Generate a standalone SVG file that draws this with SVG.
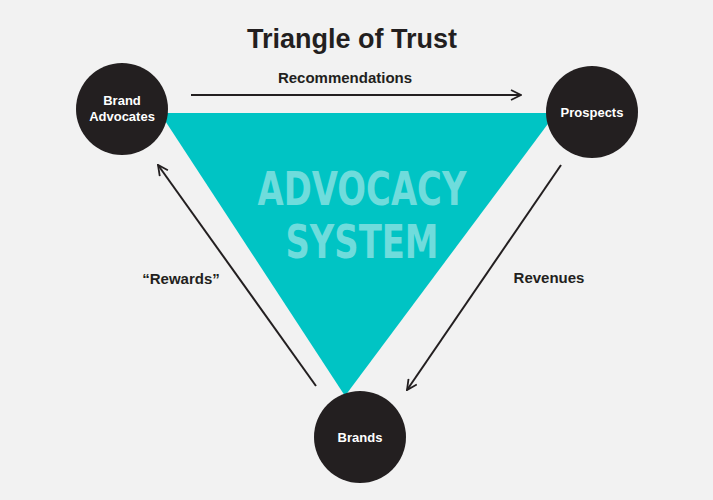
<svg xmlns="http://www.w3.org/2000/svg" width="713" height="500" viewBox="0 0 713 500">
<defs>
<marker id="ah" viewBox="0 0 12 12" refX="11" refY="6" markerWidth="12" markerHeight="12" markerUnits="userSpaceOnUse" orient="auto">
<path d="M1,1 L11,6 L1,11" fill="none" stroke="#231f20" stroke-width="1.8"/>
</marker>
<style>
.n{fill:#231f20}
.t{font-family:"Liberation Sans",Arial,sans-serif;font-weight:bold;fill:#fff;font-size:13px;text-anchor:middle}
.l{font-family:"Liberation Sans",Arial,sans-serif;font-weight:bold;fill:#231f20;font-size:15px;text-anchor:middle}
.c{stroke:#231f20;stroke-width:2;fill:none;marker-end:url(#ah)}
.a{font-family:'DejaVu Sans Condensed','Liberation Sans',sans-serif;font-stretch:condensed;font-size:47px;font-weight:bold;fill:#6fdcdc;text-anchor:middle}
</style>
</defs>
<rect width="713" height="500" fill="#f2f2f2"/>
<text x="352" y="48" class="l" style="font-size:27px">Triangle of Trust</text>
<g id="triangle">
<polygon points="160,113 556,113 345,396" fill="#00c4c4"/>
<g transform="translate(362,0) scale(0.8,1)">
<text x="0" y="205" class="a">ADVOCACY</text>
<text x="0" y="258" class="a">SYSTEM</text>
</g>
</g>
<g id="connectors">
<line x1="191" y1="95" x2="521" y2="95" class="c"/>
<line x1="316" y1="386" x2="158" y2="165" class="c"/>
<line x1="561" y1="165" x2="407" y2="390" class="c"/>
<text x="345" y="83" class="l">Recommendations</text>
<text x="181" y="284" class="l">“Rewards”</text>
<text x="549" y="283" class="l">Revenues</text>
</g>
<g id="brand-advocates">
<circle cx="122" cy="109" r="46" class="n"/>
<text x="122" y="105" class="t">Brand</text>
<text x="122" y="121" class="t">Advocates</text>
</g>
<g id="prospects">
<circle cx="592" cy="112" r="46" class="n"/>
<text x="592" y="117" class="t">Prospects</text>
</g>
<g id="brands">
<circle cx="360" cy="437" r="46" class="n"/>
<text x="360" y="442" class="t">Brands</text>
</g>
</svg>
